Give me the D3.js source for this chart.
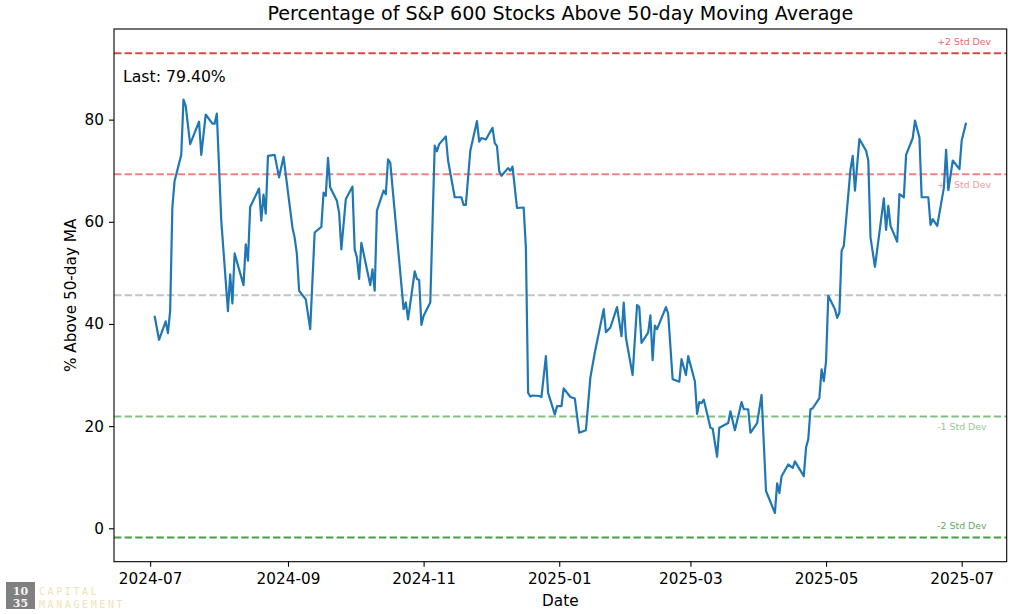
<!DOCTYPE html>
<html>
<head>
<meta charset="utf-8">
<script src="https://cdn.jsdelivr.net/npm/d3@7"></script>
<style>
  body { margin: 0; background: #fff; }
  svg { display: block; font-family: "DejaVu Sans", sans-serif; }
</style>
</head>
<body>
<svg id="chart" width="1016" height="614"></svg>
<script>
// values (date, % above 50-day MA)
const dates = [
  "2024-07-03","2024-07-05","2024-07-08","2024-07-09","2024-07-10","2024-07-11","2024-07-12","2024-07-15",
  "2024-07-16","2024-07-17","2024-07-19","2024-07-23","2024-07-24","2024-07-26","2024-07-29","2024-07-30",
  "2024-07-31","2024-08-02","2024-08-05","2024-08-06","2024-08-07","2024-08-08","2024-08-12","2024-08-13",
  "2024-08-14","2024-08-15","2024-08-19","2024-08-20","2024-08-21","2024-08-22","2024-08-23","2024-08-26",
  "2024-08-28","2024-08-30","2024-09-03","2024-09-04","2024-09-05","2024-09-06","2024-09-09","2024-09-11",
  "2024-09-13","2024-09-16","2024-09-17","2024-09-18","2024-09-19","2024-09-20","2024-09-23","2024-09-24",
  "2024-09-25","2024-09-27","2024-09-30","2024-10-01","2024-10-02","2024-10-03","2024-10-04","2024-10-08",
  "2024-10-09","2024-10-10","2024-10-11","2024-10-14","2024-10-15","2024-10-16","2024-10-17","2024-10-23",
  "2024-10-24","2024-10-25","2024-10-28","2024-10-29","2024-10-30","2024-10-31","2024-11-01","2024-11-04",
  "2024-11-06","2024-11-07","2024-11-08","2024-11-11","2024-11-12","2024-11-15","2024-11-18","2024-11-19",
  "2024-11-20","2024-11-22","2024-11-25","2024-11-26","2024-11-27","2024-11-29","2024-12-02","2024-12-03",
  "2024-12-04","2024-12-05","2024-12-06","2024-12-09","2024-12-10","2024-12-11","2024-12-13","2024-12-16",
  "2024-12-17","2024-12-18","2024-12-19","2024-12-20","2024-12-23","2024-12-24","2024-12-26","2024-12-27",
  "2024-12-30","2024-12-31","2025-01-02","2025-01-03","2025-01-06","2025-01-08","2025-01-10","2025-01-13",
  "2025-01-15","2025-01-17","2025-01-21","2025-01-22","2025-01-24","2025-01-27","2025-01-29","2025-01-30",
  "2025-01-31","2025-02-03","2025-02-05","2025-02-06","2025-02-07","2025-02-10","2025-02-11","2025-02-12",
  "2025-02-13","2025-02-14","2025-02-18","2025-02-19","2025-02-21","2025-02-24","2025-02-25","2025-02-27",
  "2025-02-28","2025-03-03","2025-03-04","2025-03-05","2025-03-06","2025-03-07","2025-03-10","2025-03-11",
  "2025-03-13","2025-03-14","2025-03-18","2025-03-19","2025-03-21","2025-03-24","2025-03-25","2025-03-27",
  "2025-03-28","2025-03-31","2025-04-02","2025-04-04","2025-04-08","2025-04-09","2025-04-10","2025-04-11",
  "2025-04-14","2025-04-16","2025-04-17","2025-04-21","2025-04-22","2025-04-23","2025-04-24","2025-04-25",
  "2025-04-28","2025-04-29","2025-04-30","2025-05-01","2025-05-02","2025-05-05","2025-05-06","2025-05-07",
  "2025-05-08","2025-05-09","2025-05-12","2025-05-13","2025-05-14","2025-05-16","2025-05-19","2025-05-20",
  "2025-05-21","2025-05-23","2025-05-27","2025-05-28","2025-05-29","2025-05-30","2025-06-02","2025-06-03",
  "2025-06-05","2025-06-06","2025-06-09","2025-06-10","2025-06-12","2025-06-13","2025-06-16","2025-06-17",
  "2025-06-18","2025-06-20","2025-06-23","2025-06-24","2025-06-25","2025-06-27","2025-06-30","2025-07-01",
  "2025-07-03"
];
const pctAbove = [
  41.6,36.9,40.5,38.2,42.5,62.8,68.0,73.1,
  83.9,82.7,75.2,79.6,73.1,81.0,79.2,79.2,
  81.2,60.2,42.5,49.7,44.0,53.8,47.6,55.6,
  52.4,62.9,66.5,60.2,65.3,61.6,72.9,73.1,
  68.7,72.7,58.9,56.9,53.7,46.5,44.8,39.0,
  57.9,59.0,65.7,65.1,72.5,66.7,64.1,61.8,
  54.6,64.4,66.9,54.6,53.0,48.8,55.9,47.6,
  50.7,46.5,62.2,66.1,65.4,72.2,71.6,42.9,
  44.2,40.9,50.3,48.8,48.6,39.8,41.6,44.2,
  74.9,73.8,75.2,76.7,72.0,64.8,64.8,63.3,
  63.3,73.9,79.7,75.7,76.4,76.1,78.4,75.4,
  74.8,69.9,69.0,70.5,70.0,70.8,62.7,62.8,
  54.9,26.5,25.8,26.0,25.9,25.7,33.7,26.5,
  22.3,23.9,23.9,27.4,25.7,25.4,18.7,19.2,
  29.5,34.4,42.9,38.4,39.3,43.3,37.6,44.2,
  37.3,30.0,43.7,43.3,36.3,38.3,41.7,32.9,
  39.7,39.0,43.3,42.0,29.2,28.7,33.1,30.0,
  33.7,28.8,22.4,24.7,24.5,25.2,19.7,19.5,
  14.0,19.7,20.6,22.9,19.2,24.7,23.3,23.3,
  18.7,20.6,26.1,7.3,3.0,8.8,6.9,10.2,
  12.5,11.8,13.1,10.2,15.8,17.4,23.3,23.5,
  25.5,31.1,28.8,32.7,45.5,42.9,41.2,42.2,
  54.3,55.3,70.3,72.9,66.1,76.2,73.9,72.0,
  56.9,51.2,64.6,58.4,63.1,59.2,56.1,65.4,
  64.8,73.1,76.4,79.8,76.5,64.8,64.8,59.4,
  60.5,59.2,66.7,74.1,66.2,72.0,70.3,75.9,
  79.4
];

// std dev bands
const bandMean = 45.6;
const bandStd = 23.7;
const bandMult = [2, 1, 0, -1, -2];
const bandLabels = ["+2 Std Dev", "+1 Std Dev", "", "-1 Std Dev", "-2 Std Dev"];
const bandColors = ["#e04545", "#ee8181", "#c4c4c4", "#82bf82", "#47a047"];
const bandTextColors = ["#e46a6a", "#f29a9a", "", "#96c896", "#5fa95f"];
const bandLabelDate = "2025-06-20";

const xTicks = ["2024-07-01","2024-09-01","2024-11-01","2025-01-01","2025-03-01","2025-05-01","2025-07-01"];
const yTicks = [0, 20, 40, 60, 80];

const W = 1016, H = 614;
const margin = { top: 29, right: 9.3, bottom: 52.3, left: 114 };
const iw = W - margin.left - margin.right;
const ih = H - margin.top - margin.bottom;

const parse = d3.timeParse("%Y-%m-%d");
const data = dates.map((d, i) => ({ date: parse(d), value: pctAbove[i] }));
const bands = bandMult.map((m, i) => ({ value: bandMean + m * bandStd, label: bandLabels[i], color: bandColors[i], text: bandTextColors[i] }));

// matplotlib-style 5% margins
const xExt = d3.extent(data, d => d.date);
const xPad = (xExt[1] - xExt[0]) * 0.05;
const x = d3.scaleTime()
  .domain([new Date(+xExt[0] - xPad), new Date(+xExt[1] + xPad)])
  .range([0, iw]);

const allY = pctAbove.concat(bands.map(b => b.value));
const yLo = d3.min(allY), yHi = d3.max(allY);
const yPad = (yHi - yLo) * 0.05;
const y = d3.scaleLinear().domain([yLo - yPad, yHi + yPad]).range([ih, 0]);

const svg = d3.select("#chart");
const g = svg.append("g").attr("transform", `translate(${margin.left},${margin.top})`);

// band lines
g.selectAll(".band").data(bands).enter().append("line")
  .attr("x1", 0).attr("x2", iw)
  .attr("y1", d => y(d.value)).attr("y2", d => y(d.value))
  .attr("stroke", d => d.color)
  .attr("stroke-width", 2)
  .attr("stroke-dasharray", "7.4,3.2");

const labelX = x(parse(bandLabelDate));
g.selectAll(".bandlabel").data(bands.filter(b => b.label)).enter().append("text")
  .attr("x", labelX)
  .attr("y", d => y(d.value) + (Math.abs(d.value - bandMean) > bandStd * 1.5 ? -8 : 14))
  .attr("font-size", "9.4px")
  .attr("fill", d => d.text)
  .text(d => d.label);

// series
const line = d3.line().x(d => x(d.date)).y(d => y(d.value));
g.append("path").datum(data)
  .attr("fill", "none")
  .attr("stroke", "#1f77b4")
  .attr("stroke-width", 2.2)
  .attr("stroke-linejoin", "round")
  .attr("d", line);

// axes
const xAxis = g.append("g").attr("transform", `translate(0,${ih})`)
  .call(d3.axisBottom(x).tickValues(xTicks.map(parse)).tickFormat(d3.timeFormat("%Y-%m")).tickSize(5).tickPadding(6));
const yAxis = g.append("g")
  .call(d3.axisLeft(y).tickValues(yTicks).tickSize(5).tickPadding(5));
[xAxis, yAxis].forEach(a => {
  a.select(".domain").remove();
  a.selectAll("text").attr("font-size", "15.25px").attr("fill", "#000").attr("font-family", "DejaVu Sans");
  a.selectAll("line").attr("stroke", "#000").attr("stroke-width", 1.1);
});

g.append("rect").attr("width", iw).attr("height", ih)
  .attr("fill", "none").attr("stroke", "#000").attr("stroke-width", 1.1);

// texts
svg.append("text").attr("x", margin.left + iw / 2).attr("y", 20)
  .attr("text-anchor", "middle").attr("font-size", "19.1px").text("Percentage of S&P 600 Stocks Above 50-day Moving Average");
svg.append("text").attr("x", margin.left + iw / 2).attr("y", 606)
  .attr("text-anchor", "middle").attr("font-size", "15.25px").text("Date");
svg.append("text").attr("transform", `translate(76,${margin.top + ih / 2}) rotate(-90)`)
  .attr("text-anchor", "middle").attr("font-size", "15.25px").text("% Above 50-day MA");

const last = pctAbove[pctAbove.length - 1];
svg.append("text").attr("x", 123).attr("y", 82)
  .attr("font-size", "15.7px").text(`Last: ${last.toFixed(2)}%`);

// logo
const logo = svg.append("g");
logo.append("rect").attr("x", 6).attr("y", 582).attr("width", 29).attr("height", 27).attr("fill", "#808080");
logo.append("text").attr("x", 20.5).attr("y", 594.5).attr("text-anchor", "middle")
  .attr("font-family", "DejaVu Serif").attr("font-weight", "bold").attr("font-size", "11px").attr("fill", "#f4f4f4").text("10");
logo.append("text").attr("x", 20.5).attr("y", 607).attr("text-anchor", "middle")
  .attr("font-family", "DejaVu Serif").attr("font-weight", "bold").attr("font-size", "11px").attr("fill", "#f4f4f4").text("35");
logo.append("text").attr("x", 39).attr("y", 595).attr("font-family", "DejaVu Sans Mono")
  .attr("font-size", "10px").attr("letter-spacing", "2.6px").attr("fill", "#f1e3b8").text("CAPITAL");
logo.append("text").attr("x", 39).attr("y", 607.5).attr("font-family", "DejaVu Sans Mono")
  .attr("font-size", "10px").attr("letter-spacing", "2.6px").attr("fill", "#f1e3b8").text("MANAGEMENT");
</script>
</body>
</html>
